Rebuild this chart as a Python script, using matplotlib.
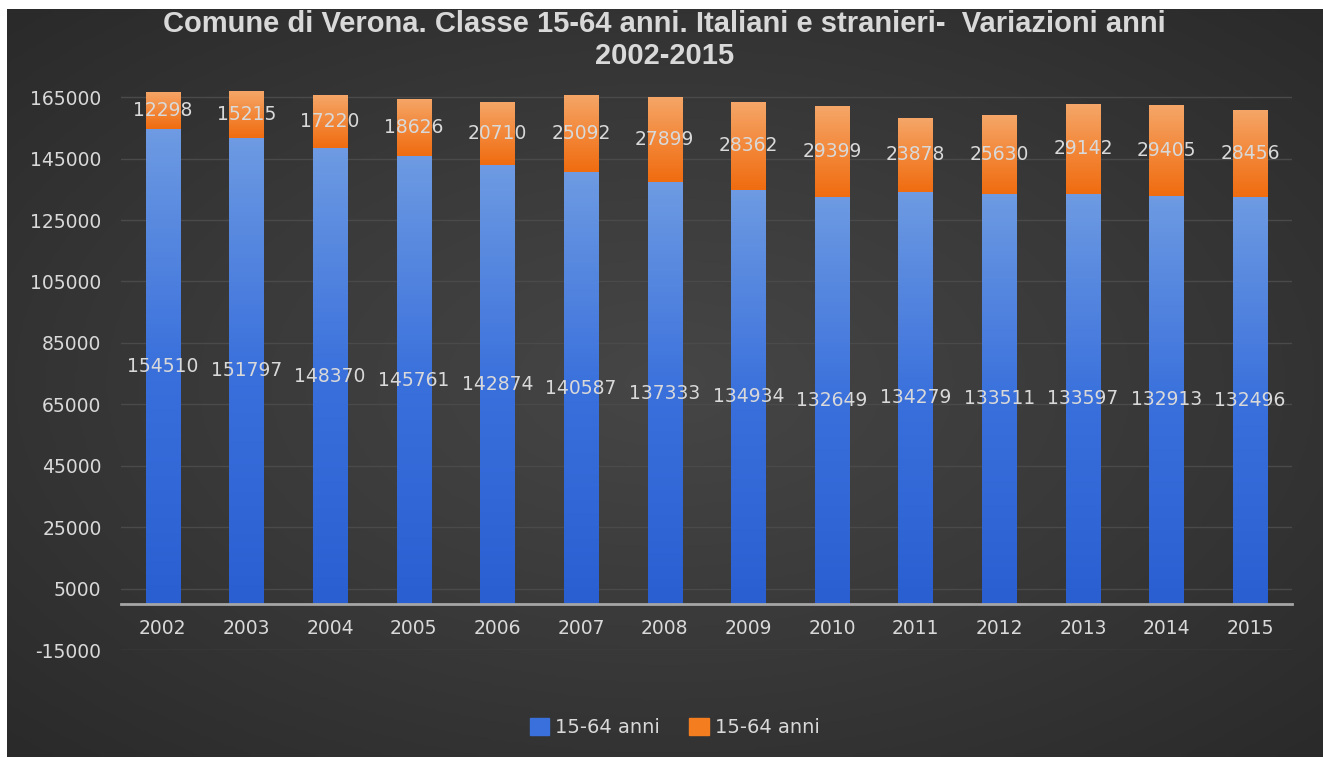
import matplotlib.pyplot as plt
import numpy as np
from matplotlib.colors import LinearSegmentedColormap

# data
anni = ['2002', '2003', '2004', '2005', '2006', '2007', '2008',
        '2009', '2010', '2011', '2012', '2013', '2014', '2015']
italiani = [154510, 151797, 148370, 145761, 142874, 140587, 137333,
            134934, 132649, 134279, 133511, 133597, 132913, 132496]
stranieri = [12298, 15215, 17220, 18626, 20710, 25092, 27899,
             28362, 29399, 23878, 25630, 29142, 29405, 28456]
y_ticks = list(range(-15000, 165001, 20000))

plt.rcParams['font.family'] = ['DejaVu Sans']
txt = '#d9d9d9'

fig = plt.figure(figsize=(13.23, 7.58), dpi=100, facecolor='white')

# dark radial background
bg = fig.add_axes([7 / 1323, 1 / 758, 1 - 7 / 1323, 1 - 10 / 758])
bg.set_axis_off()
yy, xx = np.mgrid[-1:1:300j, -1:1:500j]
r = np.sqrt(xx ** 2 + yy ** 2) / np.sqrt(2)
bg_cmap = LinearSegmentedColormap.from_list('bg', ['#464646', '#393939', '#2a2a2a'])
bg.imshow(r, cmap=bg_cmap, aspect='auto', extent=[0, 1, 0, 1])

ax = fig.add_axes([121 / 1323, 108 / 758, 1171 / 1323, 562 / 758])
ax.patch.set_alpha(0)
x = np.arange(len(anni))
w = 0.41
b1 = ax.bar(x, italiani, w, color='#3a70dc', label='15-64 anni', zorder=3)
b2 = ax.bar(x, stranieri, w, bottom=italiani, color='#f47d20', label='15-64 anni', zorder=3)

# vertical gradient inside each bar segment
grad = np.linspace(1, 0, 100).reshape(-1, 1)
cm_blue = LinearSegmentedColormap.from_list('b', ['#2a5fd2', '#3a70dc', '#6d9ae2'])
cm_orng = LinearSegmentedColormap.from_list('o', ['#f06c10', '#f3883a', '#f5a668'])
for bars, cm in ((b1, cm_blue), (b2, cm_orng)):
    for p in bars:
        x0, y0 = p.get_x(), p.get_y()
        im = ax.imshow(grad, cmap=cm, aspect='auto', zorder=3.5,
                       extent=[x0, x0 + p.get_width(), y0, y0 + p.get_height()])
        im.set_clip_path(p)

for i in x:
    ax.text(i, italiani[i] / 2, str(italiani[i]), ha='center', va='center',
            color=txt, fontsize=13.5, zorder=5)
    ax.text(i, italiani[i] + stranieri[i] / 2, str(stranieri[i]), ha='center',
            va='center', color=txt, fontsize=13.5, zorder=5)

ax.set_xlim(-0.5, len(anni) - 0.5)
ax.set_ylim(-15000, 168000)
ax.set_yticks(y_ticks)
ax.set_yticklabels([str(v) for v in y_ticks])
ax.set_xticks(x)
ax.set_xticklabels(anni)
ax.grid(axis='y', color='#4a4a4a', lw=1, zorder=0)
for s in ['top', 'right', 'left']:
    ax.spines[s].set_visible(False)
ax.spines['bottom'].set_position(('data', 0))
ax.spines['bottom'].set_color('#a6a6a6')
ax.spines['bottom'].set_linewidth(2)
ax.spines['bottom'].set_zorder(6)
ax.tick_params(axis='both', length=0, colors=txt, labelsize=13.5)
ax.tick_params(axis='y', pad=14)
ax.tick_params(axis='x', pad=11)

fig.text(0.502, 0.947, 'Comune di Verona. Classe 15-64 anni. Italiani e stranieri-  Variazioni anni\n2002-2015',
         ha='center', va='center', color=txt, fontsize=21, fontweight='bold',
         family='Liberation Sans', linespacing=1.2)

handles = [b1, b2]
leg = fig.legend(handles, ['15-64 anni', '15-64 anni'], loc='center', bbox_to_anchor=(0.51, 0.04),
                 ncol=2, frameon=False, fontsize=14, handlelength=1, handleheight=1,
                 handletextpad=0.3, columnspacing=1.5, labelcolor=txt)
leg.legend_handles[0].set_color('#3a70dc')
leg.legend_handles[1].set_color('#f47d20')

fig.savefig('out.png', dpi=100, facecolor=fig.get_facecolor())
